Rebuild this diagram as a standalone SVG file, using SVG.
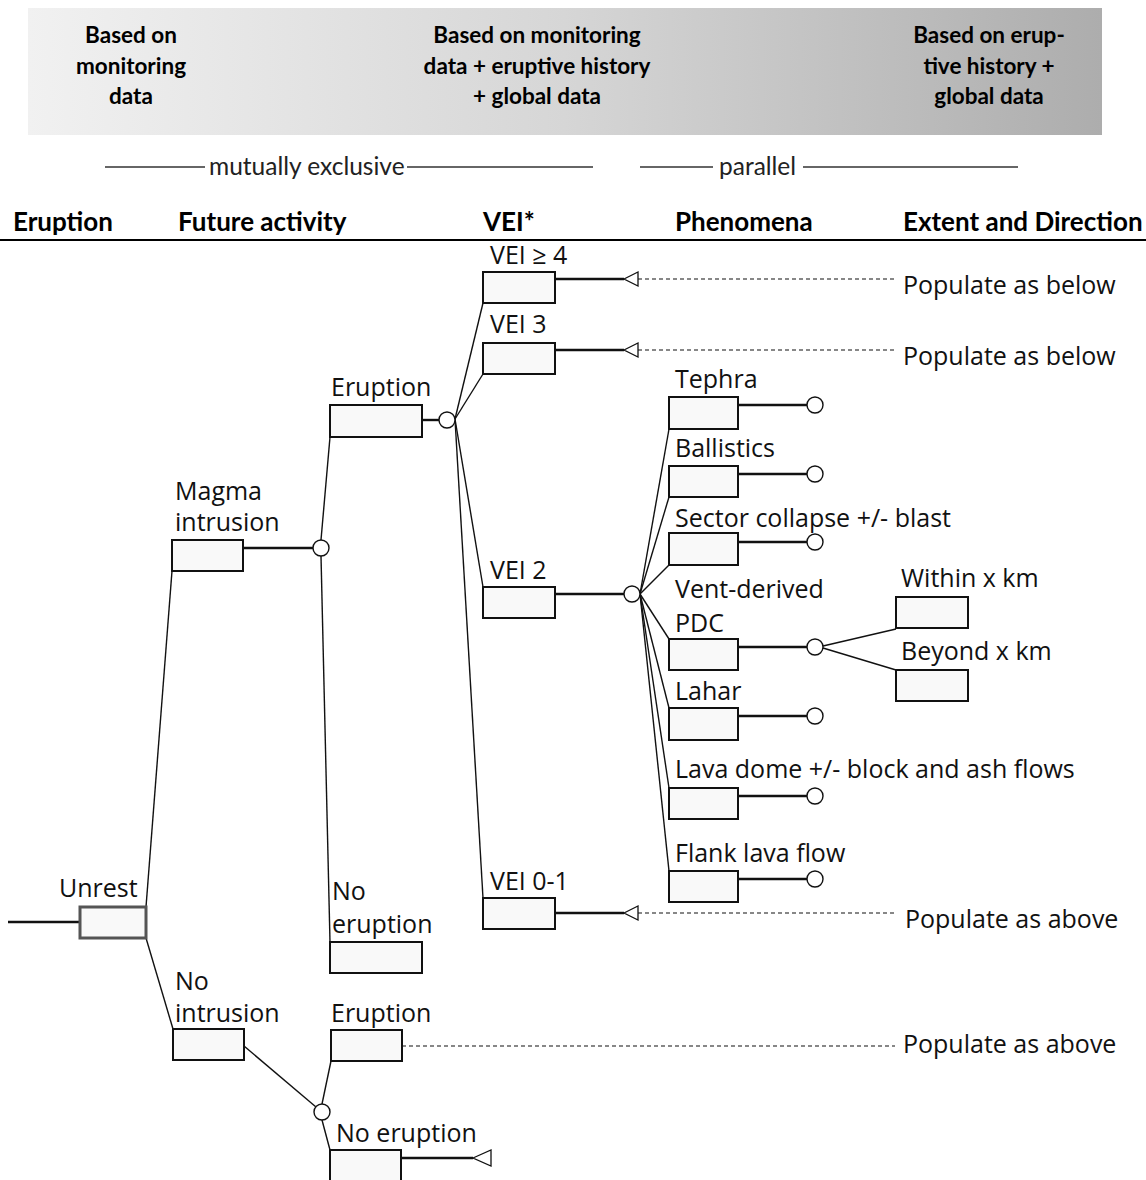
<svg xmlns="http://www.w3.org/2000/svg" width="1146" height="1180" viewBox="0 0 1146 1180">
<defs>
<linearGradient id="band" x1="0" y1="0" x2="1" y2="0">
<stop offset="0" stop-color="#f1f1f1"/>
<stop offset="0.5" stop-color="#d6d6d6"/>
<stop offset="1" stop-color="#adadad"/>
</linearGradient>
</defs>
<style>
.hb{font-family:Lato,"Open Sans",sans-serif;font-weight:bold;font-size:22.5px;fill:#000;text-anchor:middle}
.col{font-family:Lato,"Open Sans",sans-serif;font-weight:bold;font-size:26px;fill:#000}
.sub{font-family:Lato,"Open Sans",sans-serif;font-size:24.5px;fill:#222}
.lbl{font-family:"Open Sans",Lato,sans-serif;font-size:25px;fill:#111}
.box{fill:#f9f9f9;stroke:#111;stroke-width:2}
.br{stroke:#111;stroke-width:1.4;fill:none}
.hz{stroke:#111;stroke-width:2.4;fill:none}
.dash{stroke:#111;stroke-width:1.2;stroke-dasharray:4 3;fill:none}
.cir{fill:#fff;stroke:#111;stroke-width:1.4}
.tri{fill:#fff;stroke:#111;stroke-width:1.3}
.gl{stroke:#666;stroke-width:2.2}
</style>
<rect x="28" y="8" width="1074" height="127" fill="url(#band)"/>
<g id="header-text">
<text class="hb" x="131" y="43">Based on</text>
<text class="hb" x="131" y="74">monitoring</text>
<text class="hb" x="131" y="104">data</text>
<text class="hb" x="537" y="43">Based on monitoring</text>
<text class="hb" x="537" y="74">data + eruptive history</text>
<text class="hb" x="537" y="104">+ global data</text>
<text class="hb" x="989" y="43">Based on erup-</text>
<text class="hb" x="989" y="74">tive history +</text>
<text class="hb" x="989" y="104">global data</text>
</g>
<g id="scope-lines">
<line class="gl" x1="105" y1="167" x2="205" y2="167"/>
<text class="sub" x="209" y="175">mutually exclusive</text>
<line class="gl" x1="407" y1="167" x2="593" y2="167"/>
<line class="gl" x1="640" y1="167" x2="713" y2="167"/>
<text class="sub" x="719" y="175">parallel</text>
<line class="gl" x1="803" y1="167" x2="1018" y2="167"/>
</g>
<g id="columns">
<text class="col" x="13" y="231">Eruption</text>
<text class="col" x="178" y="231">Future activity</text>
<text class="col" x="483" y="231">VEI*</text>
<text class="col" x="675" y="231">Phenomena</text>
<text class="col" x="903" y="231">Extent and Direction</text>
<line x1="0" y1="240" x2="1146" y2="240" stroke="#000" stroke-width="2"/>
</g>
<g id="connectors">
<line class="hz" x1="8" y1="922" x2="80" y2="922"/>
<line class="br" x1="146" y1="907" x2="172" y2="571"/>
<line class="br" x1="146" y1="938" x2="173" y2="1029"/>
<line class="hz" x1="243" y1="548" x2="314" y2="548"/>
<line class="br" x1="321" y1="540" x2="330" y2="437"/>
<line class="br" x1="321" y1="556" x2="330" y2="942"/>
<line class="hz" x1="422" y1="420" x2="439" y2="420"/>
<line class="br" x1="455" y1="419" x2="483" y2="303"/>
<line class="br" x1="455" y1="419" x2="483" y2="374"/>
<line class="br" x1="455" y1="419" x2="483" y2="587"/>
<line class="br" x1="455" y1="419" x2="483" y2="898"/>
<line class="br" x1="244" y1="1046" x2="316" y2="1107"/>
<line class="br" x1="322" y1="1104" x2="331" y2="1061"/>
<line class="br" x1="322" y1="1120" x2="330" y2="1150"/>
<line class="hz" x1="555" y1="279" x2="624" y2="279"/>
<line class="dash" x1="638" y1="279" x2="895" y2="279"/>
<polygon class="tri" points="624,279 638,272 638,286"/>
<line class="hz" x1="555" y1="350" x2="624" y2="350"/>
<line class="dash" x1="638" y1="350" x2="895" y2="350"/>
<polygon class="tri" points="624,350 638,343 638,357"/>
<line class="hz" x1="555" y1="594" x2="624" y2="594"/>
<line class="hz" x1="555" y1="913" x2="624" y2="913"/>
<line class="dash" x1="638" y1="913" x2="897" y2="913"/>
<polygon class="tri" points="624,913 638,906 638,920"/>
<line class="dash" x1="402" y1="1046" x2="895" y2="1046"/>
<line class="hz" x1="401" y1="1158" x2="473" y2="1158"/>
<polygon class="tri" points="473,1158 491,1150 491,1166"/>
<line class="br" x1="640" y1="594" x2="669" y2="429"/>
<line class="br" x1="640" y1="594" x2="669" y2="497"/>
<line class="br" x1="640" y1="594" x2="669" y2="565"/>
<line class="br" x1="640" y1="594" x2="669" y2="639"/>
<line class="br" x1="640" y1="594" x2="669" y2="708"/>
<line class="br" x1="640" y1="594" x2="669" y2="788"/>
<line class="br" x1="640" y1="594" x2="669" y2="871"/>
<line class="hz" x1="738" y1="405" x2="807" y2="405"/>
<line class="hz" x1="738" y1="474" x2="807" y2="474"/>
<line class="hz" x1="738" y1="542" x2="807" y2="542"/>
<line class="hz" x1="738" y1="647" x2="807" y2="647"/>
<line class="hz" x1="738" y1="716" x2="807" y2="716"/>
<line class="hz" x1="738" y1="796" x2="807" y2="796"/>
<line class="hz" x1="738" y1="879" x2="807" y2="879"/>
<line class="br" x1="823" y1="646" x2="896" y2="629"/>
<line class="br" x1="823" y1="648" x2="896" y2="670"/>
<circle class="cir" cx="321" cy="548" r="8"/>
<circle class="cir" cx="447" cy="420" r="8"/>
<circle class="cir" cx="322" cy="1112" r="8"/>
<circle class="cir" cx="632" cy="594" r="8"/>
<circle class="cir" cx="815" cy="405" r="8"/>
<circle class="cir" cx="815" cy="474" r="8"/>
<circle class="cir" cx="815" cy="542" r="8"/>
<circle class="cir" cx="815" cy="647" r="8"/>
<circle class="cir" cx="815" cy="716" r="8"/>
<circle class="cir" cx="815" cy="796" r="8"/>
<circle class="cir" cx="815" cy="879" r="8"/>
</g>
<g id="unrest"><rect x="80" y="907" width="66" height="31" fill="#f9f9f9" stroke="#555" stroke-width="3"/><text class="lbl" x="59" y="897">Unrest</text></g>
<g id="magma-intrusion"><rect class="box" x="172" y="540" width="71" height="31"/><text class="lbl" x="175" y="500">Magma</text><text class="lbl" x="175" y="531">intrusion</text></g>
<g id="no-intrusion"><rect class="box" x="173" y="1029" width="71" height="31"/><text class="lbl" x="175" y="990">No</text><text class="lbl" x="175" y="1022">intrusion</text></g>
<g id="eruption-1"><rect class="box" x="330" y="405" width="92" height="32"/><text class="lbl" x="331" y="396">Eruption</text></g>
<g id="no-eruption-1"><rect class="box" x="330" y="942" width="92" height="31"/><text class="lbl" x="332" y="900">No</text><text class="lbl" x="332" y="933">eruption</text></g>
<g id="eruption-2"><rect class="box" x="331" y="1030" width="71" height="31"/><text class="lbl" x="331" y="1022">Eruption</text></g>
<g id="no-eruption-2"><rect class="box" x="330" y="1150" width="71" height="34"/><text class="lbl" x="336" y="1142">No eruption</text></g>
<g id="vei4"><rect class="box" x="483" y="272" width="72" height="31"/><text class="lbl" x="490" y="264">VEI ≥ 4</text></g>
<g id="vei3"><rect class="box" x="483" y="343" width="72" height="31"/><text class="lbl" x="490" y="333">VEI 3</text></g>
<g id="vei2"><rect class="box" x="483" y="587" width="72" height="31"/><text class="lbl" x="490" y="579">VEI 2</text></g>
<g id="vei01"><rect class="box" x="483" y="898" width="72" height="31"/><text class="lbl" x="490" y="890">VEI 0-1</text></g>
<g id="tephra"><rect class="box" x="669" y="397" width="69" height="32"/><text class="lbl" x="675" y="388">Tephra</text></g>
<g id="ballistics"><rect class="box" x="669" y="466" width="69" height="31"/><text class="lbl" x="675" y="457">Ballistics</text></g>
<g id="sector-collapse"><rect class="box" x="669" y="533" width="69" height="32"/><text class="lbl" x="675" y="527">Sector collapse +/- blast</text></g>
<g id="pdc"><rect class="box" x="669" y="639" width="69" height="31"/><text class="lbl" x="675" y="598">Vent-derived</text><text class="lbl" x="675" y="632">PDC</text></g>
<g id="within"><rect class="box" x="896" y="597" width="72" height="31"/><text class="lbl" x="901" y="587">Within x km</text></g>
<g id="beyond"><rect class="box" x="896" y="670" width="72" height="31"/><text class="lbl" x="901" y="660">Beyond x km</text></g>
<g id="lahar"><rect class="box" x="669" y="708" width="69" height="32"/><text class="lbl" x="675" y="700">Lahar</text></g>
<g id="lava-dome"><rect class="box" x="669" y="788" width="69" height="31"/><text class="lbl" x="675" y="778">Lava dome +/- block and ash flows</text></g>
<g id="flank"><rect class="box" x="669" y="871" width="69" height="31"/><text class="lbl" x="675" y="862">Flank lava flow</text></g>
<g id="populate">
<text class="lbl" x="903" y="294">Populate as below</text>
<text class="lbl" x="903" y="365">Populate as below</text>
<text class="lbl" x="905" y="928">Populate as above</text>
<text class="lbl" x="903" y="1053">Populate as above</text>
</g>
</svg>
